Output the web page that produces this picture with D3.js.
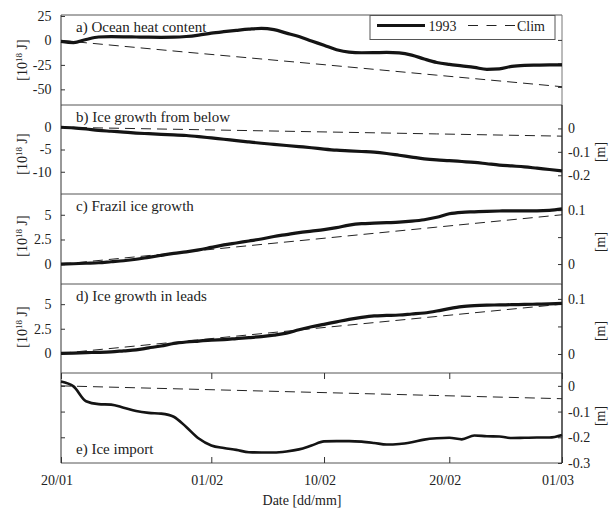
<!DOCTYPE html>
<html>
<head>
<meta charset="utf-8">
<script src="https://cdn.jsdelivr.net/npm/d3@7"></script>
<style>
  html, body { margin: 0; padding: 0; background: #fff; }
  svg { display: block; }
</style>
</head>
<body>
<svg id="chart" width="609" height="510"></svg>
<script>
// ---------- DATA ----------
// day offsets from 20/01/1993 (0) to 01/03/1993 (40)
const days = d3.range(0, 41);
const climDays = [0, 10, 20, 30, 40];

const tickDates = ["20/01", "01/02", "10/02", "20/02", "01/03"];
const tickDays  = [0, 12, 21, 31, 40];

// a) Ocean heat content [10^18 J]
const ohc1993 = [-1, -2.2, 1, 3.5, 3.8, 3.7, 3.5, 3.3, 3.2, 3.3, 4, 5.5, 7.5, 9, 10.3, 11.5, 12.3, 11, 7.5, 4,
  -0.5, -5, -9.5, -12, -12.6, -12.5, -12.3, -12.8, -15, -19, -22.5, -24.5, -26, -27.5, -29.5, -29, -26.5, -25.5, -25.2, -25, -25];
const ohcClim = [0, -12, -23.6, -35.5, -47.3];

// b) Ice growth from below [10^18 J]
const below1993 = [0, -0.15, -0.4, -0.7, -0.9, -1.1, -1.3, -1.45, -1.6, -1.7, -1.85, -2.1, -2.4, -2.7, -3.0, -3.3, -3.6, -3.85, -4.1, -4.35,
  -4.6, -4.9, -5.15, -5.3, -5.45, -5.6, -5.9, -6.3, -6.7, -7.1, -7.35, -7.5, -7.7, -7.9, -8.2, -8.5, -8.7, -8.9, -9.2, -9.5, -9.8];
const belowClim = [0, -0.5, -1.0, -1.5, -2.0];

// c) Frazil ice growth [10^18 J]
const frazil1993 = [0, 0.05, 0.1, 0.15, 0.25, 0.35, 0.5, 0.7, 0.9, 1.1, 1.25, 1.45, 1.7, 1.95, 2.15, 2.35, 2.55, 2.8, 3.0, 3.2,
  3.35, 3.5, 3.7, 3.95, 4.1, 4.15, 4.2, 4.25, 4.35, 4.5, 4.75, 5.1, 5.25, 5.3, 5.35, 5.38, 5.4, 5.4, 5.4, 5.45, 5.6];
const frazilClim = [0, 1.25, 2.5, 3.75, 5.0];

// d) Ice growth in leads [10^18 J]
const leads1993 = [0, 0.03, 0.07, 0.1, 0.15, 0.25, 0.35, 0.55, 0.75, 1.0, 1.15, 1.25, 1.35, 1.4, 1.5, 1.6, 1.7, 1.85, 2.05, 2.4,
  2.7, 2.95, 3.2, 3.45, 3.65, 3.8, 3.85, 3.9, 4.0, 4.1, 4.3, 4.55, 4.75, 4.85, 4.9, 4.92, 4.95, 4.97, 5.0, 5.03, 5.08];
const leadsClim = [0, 1.25, 2.5, 3.75, 5.0];

// e) Ice import [m]
const import1993 = [0.017, -0.002, -0.06, -0.071, -0.073, -0.085, -0.098, -0.105, -0.108, -0.12, -0.16, -0.205, -0.232, -0.242, -0.249, -0.258, -0.259, -0.259, -0.255, -0.247,
  -0.232, -0.216, -0.215, -0.215, -0.217, -0.222, -0.228, -0.226, -0.219, -0.209, -0.204, -0.202, -0.208, -0.193, -0.196, -0.197, -0.203, -0.202, -0.201, -0.201, -0.191];
const importClim = [0, -0.0125, -0.025, -0.0375, -0.05];

const panelTitles = ["a) Ocean heat content", "b) Ice growth from below", "c) Frazil ice growth", "d) Ice growth in leads", "e) Ice import"];
const legendLabels = ["1993", "Clim"];

// tick values
const leftTicksA = [25, 0, -25, -50];
const leftTicksB = [0, -5, -10];
const leftTicksC = [0, 2.5, 5];
const leftTicksD = [0, 2.5, 5];
const rightTicksA = [0, -0.1, -0.2];
const rightTicksB = [0, -0.1, -0.2];
const rightTicksC = [0, 0.05, 0.1];
const rightTicksD = [0, 0.05, 0.1];
const rightTicksE = [0, -0.1, -0.2, -0.3];

// ---------- LAYOUT ----------
const FONT = '"Liberation Serif", "Times New Roman", serif';
const svg = d3.select("#chart").style("font-family", FONT);
svg.append("rect").attr("width", 609).attr("height", 510).attr("fill", "#fff");

function txt(sel) { return sel.style("font-family", FONT).attr("fill", "#222"); }

const L = 61, R = 562;
const x = d3.scaleLinear().domain([0, 40]).range([L, R]);

const panels = [
  { top: 15, bottom: 105, lDom: [-66, 26], lTicks: leftTicksA,
    rDom: [-0.277, 0.106], rTicks: rightTicksA, rLabTicks: [],
    s: ohc1993, c: ohcClim, onLeft: true, title: panelTitles[0], titleTop: true, yLabCy: 60, mLab: false },
  { top: 105, bottom: 194, lDom: [-15, 5], lTicks: leftTicksB,
    rDom: [-0.28, 0.1], rTicks: rightTicksB, rLabTicks: rightTicksB,
    s: below1993, c: belowClim, onLeft: true, title: panelTitles[1], titleTop: true, yLabCy: 154, mLab: true, mCy: 152 },
  { top: 194, bottom: 284, lDom: [-2, 7.1], lTicks: leftTicksC,
    rDom: [-0.037, 0.13], rTicks: rightTicksC, rLabTicks: [0, 0.1],
    s: frazil1993, c: frazilClim, onLeft: true, title: panelTitles[2], titleTop: true, yLabCy: 236, mLab: true, mCy: 242 },
  { top: 284, bottom: 373, lDom: [-2, 7.05], lTicks: leftTicksD,
    rDom: [-0.0345, 0.127], rTicks: rightTicksD, rLabTicks: [0, 0.1],
    s: leads1993, c: leadsClim, onLeft: true, title: panelTitles[3], titleTop: true, yLabCy: 327, mLab: true, mCy: 331 },
  { top: 373, bottom: 463, lDom: null, lTicks: [],
    rDom: [-0.3, 0.05], rTicks: rightTicksE, rLabTicks: rightTicksE,
    s: import1993, c: importClim, onLeft: false, title: panelTitles[4], titleTop: false, yLabCy: null, mLab: true, mCy: 416 }
];

const FS = 14;
const lineCol = "#141414";
const frameCol = "#555";

panels.forEach((p, i) => {
  const g = svg.append("g");
  const yR = d3.scaleLinear().domain(p.rDom).range([p.bottom, p.top]);
  const yL = p.lDom ? d3.scaleLinear().domain(p.lDom).range([p.bottom, p.top]) : yR;
  const yData = p.onLeft ? yL : yR;

  // frame
  g.append("line").attr("x1", L).attr("x2", R).attr("y1", p.top).attr("y2", p.top)
    .attr("stroke", frameCol).attr("stroke-width", 1);
  if (i === panels.length - 1) {
    g.append("line").attr("x1", L).attr("x2", R).attr("y1", p.bottom).attr("y2", p.bottom)
      .attr("stroke", frameCol).attr("stroke-width", 1);
  }
  g.append("line").attr("x1", L).attr("x2", L).attr("y1", p.top).attr("y2", p.bottom)
    .attr("stroke", "#333").attr("stroke-width", 1);
  g.append("line").attr("x1", R).attr("x2", R).attr("y1", p.top).attr("y2", p.bottom)
    .attr("stroke", i === 0 ? "#777" : "#222").attr("stroke-width", i === 0 ? 1 : 1.4);

  // left axis
  if (p.lDom) {
    const axL = d3.axisLeft(yL).tickValues(p.lTicks).tickSize(-4).tickPadding(9.5)
      .tickFormat(d => String(d));
    const ga = g.append("g").attr("transform", `translate(${L},0)`).call(axL);
    ga.select(".domain").remove();
    ga.selectAll("line").attr("stroke", "#333");
    txt(ga.selectAll("text")).attr("font-size", FS);
  } else {
    const axL = d3.axisLeft(yR).tickValues([0, -0.1, -0.2]).tickSize(-4).tickFormat("");
    const ga = g.append("g").attr("transform", `translate(${L},0)`).call(axL);
    ga.select(".domain").remove();
    ga.selectAll("line").attr("stroke", "#333");
  }

  // right axis
  const axR = d3.axisRight(yR).tickValues(p.rTicks).tickSize(-4).tickPadding(6)
    .tickFormat(d => p.rLabTicks.indexOf(d) >= 0 ? String(d) : "");
  const gr = g.append("g").attr("transform", `translate(${R},0)`).call(axR);
  gr.select(".domain").remove();
  gr.selectAll("line").attr("stroke", "#333");
  txt(gr.selectAll("text")).attr("font-size", FS);

  // lines
  const solid = d3.line().x((d, j) => x(days[j])).y(d => yData(d)).curve(d3.curveMonotoneX);
  const dashed = d3.line().x((d, j) => x(climDays[j])).y(d => yData(d));
  g.append("path").datum(p.c).attr("d", dashed).attr("fill", "none")
    .attr("stroke", "#222").attr("stroke-width", 1).attr("stroke-dasharray", "10,6");
  g.append("path").datum(p.s).attr("d", solid).attr("fill", "none")
    .attr("stroke", lineCol).attr("stroke-width", i === 4 ? 2.6 : 3.2).attr("stroke-linejoin", "round");

  // title
  txt(g.append("text")).attr("x", 76).attr("y", p.titleTop ? p.top + 17 : p.bottom - 9)
    .attr("font-size", 15).text(p.title);

  // y labels
  if (p.yLabCy !== null) {
    const t = txt(g.append("text")).attr("transform", `translate(26.5,${p.yLabCy}) rotate(-90)`)
      .attr("text-anchor", "middle").attr("font-size", FS);
    t.append("tspan").text("[10");
    t.append("tspan").attr("font-size", 9).attr("dy", -5).text("18");
    t.append("tspan").attr("dy", 5).text(" J]");
  }
  if (p.mLab) {
    txt(g.append("text")).attr("transform", `translate(605,${p.mCy}) rotate(-90)`)
      .attr("text-anchor", "middle").attr("font-size", FS).text("[m]");
  }

  // x ticks only on the bottom panel (top and bottom, inward)
  if (i === panels.length - 1) {
    const axB = d3.axisBottom(x).tickValues(tickDays).tickSize(-6).tickPadding(12)
      .tickFormat((d, k) => tickDates[k]);
    const gb = g.append("g").attr("transform", `translate(0,${p.bottom})`).call(axB);
    gb.select(".domain").remove();
    gb.selectAll("line").attr("stroke", "#333");
    txt(gb.selectAll("text")).attr("font-size", FS).attr("dx", -4.5);
    const axT = d3.axisTop(x).tickValues(tickDays).tickSize(-6).tickFormat("");
    const gt = g.append("g").attr("transform", `translate(0,${p.top})`).call(axT);
    gt.select(".domain").remove();
    gt.selectAll("line").attr("stroke", "#333");
  }
});

// x axis label
txt(svg.append("text")).attr("x", 302).attr("y", 505).attr("text-anchor", "middle")
  .attr("font-size", FS).text("Date [dd/mm]");

// legend
const lg = svg.append("g");
lg.append("rect").attr("x", 370).attr("y", 15.5).attr("width", 185).attr("height", 24)
  .attr("fill", "#fff").attr("stroke", "#555").attr("stroke-width", 1);
lg.append("line").attr("x1", 377).attr("x2", 425).attr("y1", 25.5).attr("y2", 25.5)
  .attr("stroke", lineCol).attr("stroke-width", 3.2);
txt(lg.append("text")).attr("x", 428.5).attr("y", 31).attr("font-size", FS).text(legendLabels[0]);
lg.append("line").attr("x1", 468).attr("x2", 515).attr("y1", 25.5).attr("y2", 25.5)
  .attr("stroke", "#222").attr("stroke-width", 1).attr("stroke-dasharray", "10,8.5");
txt(lg.append("text")).attr("x", 517).attr("y", 31).attr("font-size", FS).text(legendLabels[1]);
</script>
</body>
</html>
